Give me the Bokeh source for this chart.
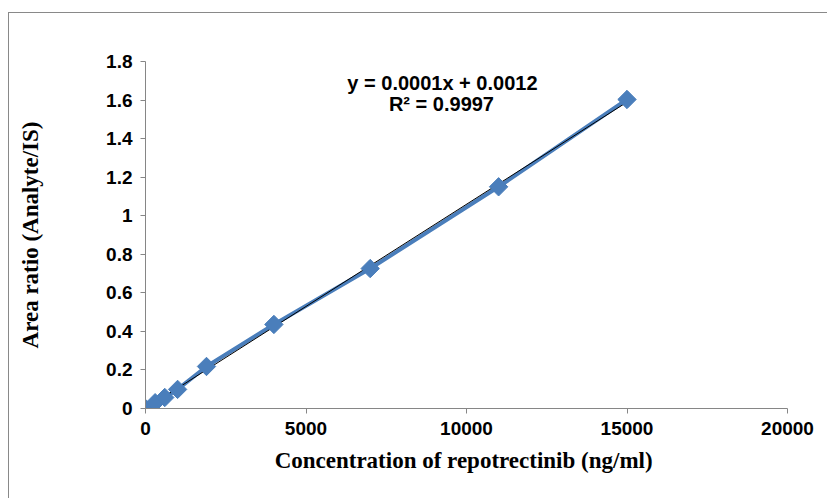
import numpy as np
from bokeh.plotting import figure
from bokeh.models import Range1d, Label, FixedTicker
from bokeh.embed import file_html
from bokeh.resources import INLINE

# Data
conc = [0, 300, 600, 1000, 1900, 4000, 7000, 11000, 15000]
area_ratio = [0.0, 0.03, 0.057, 0.099, 0.218, 0.436, 0.726, 1.15, 1.603]
x_ticks = [0, 5000, 10000, 15000, 20000]
y_ticks = [0, 0.2, 0.4, 0.6, 0.8, 1.0, 1.2, 1.4, 1.6, 1.8]
equation = "y = 0.0001x + 0.0012"
r2_text = "R² = 0.9997"
x_title = "Concentration of repotrectinib  (ng/ml)"
y_title = "Area ratio (Analyte/IS)"

p = figure(width=819, height=486, output_backend="svg", toolbar_location=None,
           x_range=Range1d(0, 20000), y_range=Range1d(0, 1.8),
           min_border_left=136, min_border_right=41, min_border_top=48, min_border_bottom=91)
p.styles = {"margin-left": "8px", "margin-top": "12px",
            "border-left": "1px solid #898989", "border-top": "1px solid #898989"}
p.outline_line_color = None
p.grid.grid_line_color = None
p.background_fill_color = "white"
p.border_fill_color = "white"

axis_color = "#868686"
for ax in (p.xaxis[0], p.yaxis[0]):
    ax.axis_line_color = axis_color
    ax.major_tick_line_color = axis_color
    ax.minor_tick_line_color = None
    ax.major_tick_in = 0
    ax.major_tick_out = 5
    ax.major_label_text_font = "Liberation Sans"
    ax.major_label_text_font_style = "bold"
    ax.major_label_text_font_size = "19px"
    ax.major_label_text_color = "black"
    ax.axis_label_text_font = "Liberation Serif"
    ax.axis_label_text_font_style = "bold"
    ax.axis_label_text_font_size = "23px"
    ax.axis_label_text_color = "black"

p.xaxis[0].ticker = FixedTicker(ticks=x_ticks)
p.yaxis[0].ticker = FixedTicker(ticks=y_ticks)
p.yaxis[0].major_label_overrides = {0: "0", 1.0: "1"}
p.xaxis[0].axis_label = x_title
p.yaxis[0].axis_label = y_title
p.xaxis[0].major_label_standoff = 8
p.yaxis[0].major_label_standoff = 8
p.xaxis[0].axis_label_standoff = 10
p.yaxis[0].axis_label_standoff = 60

# trendline (least squares fit)
slope, intercept = np.polyfit(conc, area_ratio, 1)
tx = [min(conc), max(conc)]
ty = [slope * v + intercept for v in tx]

blue = "#4A7EBB"
p.line(conc, area_ratio, line_color=blue, line_width=4)
p.line(tx, ty, line_color="black", line_width=1)
p.scatter(conc, area_ratio, marker="square", angle=np.pi / 4, size=13,
          fill_color=blue, line_color=blue)

p.add_layout(Label(x=9250, y=1.686, text=equation, text_color="black",
                   text_font="Liberation Sans", text_font_style="bold",
                   text_font_size="20px", text_align="center", text_baseline="middle"))
p.add_layout(Label(x=9220, y=1.582, text=r2_text, text_color="black",
                   text_font="Liberation Sans", text_font_style="bold",
                   text_font_size="20px", text_align="center", text_baseline="middle"))

open("out.html", "w").write(file_html(p, INLINE))
